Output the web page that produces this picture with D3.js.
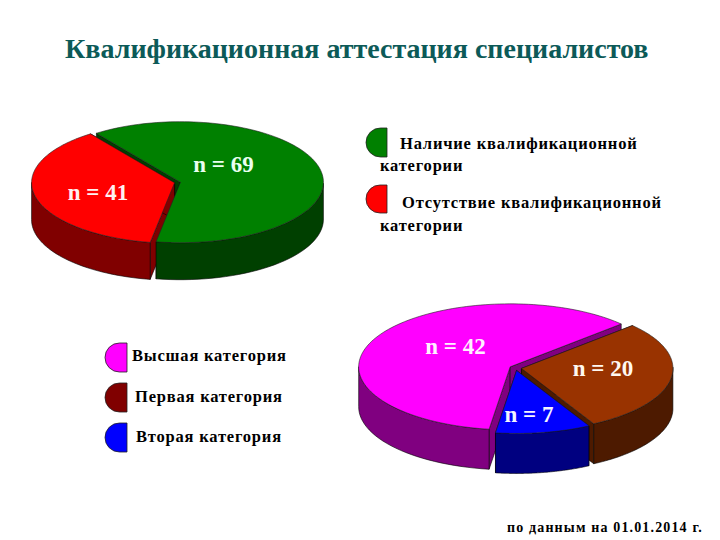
<!DOCTYPE html>
<html><head><meta charset="utf-8">
<script src="https://cdn.jsdelivr.net/npm/d3@7"></script>
<style>html,body{margin:0;padding:0;background:#fff}svg{display:block}text{font-family:"Liberation Serif",serif;font-weight:bold}</style>
</head><body><svg id="c" width="720" height="540"></svg>
<script>
const titleText = "Квалификационная аттестация специалистов";
const noteText = "по данным на 01.01.2014 г.";

const pie1Labels = ["n = 69", "n = 41"];
const pie1Values = [69, 41];
const pie1Tops = ["#008000", "#ff0000"];
const pie1Walls = ["#004000", "#800000"];

const pie2Labels = ["n = 42", "n = 20", "n = 7"];
const pie2Values = [42, 20, 7];
const pie2Tops = ["#ff00ff", "#993300", "#0000ff"];
const pie2Walls = ["#800080", "#4d1a00", "#000080"];

const legend1Lines = [["Наличие квалификационной", "категории"], ["Отсутствие квалификационной", "категории"]];
const legend2Names = ["Высшая категория", "Первая категория", "Вторая категория"];
const legend2Colors = ["#ff00ff", "#800000", "#0000ff"];

const svg = d3.select("#c");
const rad = Math.PI / 180;

function pie3d(cfg) {
  const arcs = d3.pie().sort(null).startAngle(cfg.start * rad).endAngle((cfg.start + 360) * rad)(cfg.values);
  const g = svg.append("g");
  const sx = d3.scaleLinear().domain([-1, 1]).range([-cfg.rx, cfg.rx]);
  const sy = d3.scaleLinear().domain([-1, 1]).range([-cfg.ry, cfg.ry]);
  const items = arcs.map((a, i) => {
    const mid = (a.startAngle + a.endAngle) / 2;
    const cx = cfg.cx + cfg.explode * Math.sin(mid);
    const cy = cfg.cy - cfg.explode * Math.cos(mid) * cfg.ry / cfg.rx;
    const pt = t => [cx + sx(Math.sin(t)), cy + sy(-Math.cos(t))];
    return {a, i, cx, cy, pt};
  });
  const line = d3.line();
  // radial cut faces
  items.forEach(o => {
    [o.a.startAngle, o.a.endAngle].forEach(t => {
      const p = o.pt(t);
      g.append("path").attr("d", line([[o.cx, o.cy], p, [p[0], p[1] + cfg.depth], [o.cx, o.cy + cfg.depth]]) + "Z")
        .attr("fill", cfg.walls[o.i]).attr("stroke", "#000").attr("stroke-width", 0.6);
    });
  });
  // outer rim
  items.forEach(o => {
    const n = 80, lo = o.a.startAngle, hi = o.a.endAngle;
    const ts = d3.range(n + 1).map(k => lo + (hi - lo) * k / n);
    const vis = ts.filter(t => Math.cos(t) <= 0.02);
    if (!vis.length) return;
    const up = vis.map(o.pt);
    const dn = up.map(p => [p[0], p[1] + cfg.depth]).reverse();
    g.append("path").attr("d", line(up.concat(dn)) + "Z").attr("fill", cfg.walls[o.i]).attr("stroke", "#000").attr("stroke-width", 0.6);
  });
  // top faces
  items.forEach(o => {
    const n = 120, lo = o.a.startAngle, hi = o.a.endAngle;
    const pts = d3.range(n + 1).map(k => o.pt(lo + (hi - lo) * k / n));
    g.append("path").attr("d", line([[o.cx, o.cy]].concat(pts)) + "Z").attr("fill", cfg.tops[o.i]).attr("stroke", "#222").attr("stroke-width", 0.6);
  });
  cfg.labelPos.forEach((p, i) => {
    g.append("text").attr("x", p[0]).attr("y", p[1]).attr("text-anchor", "middle")
      .attr("font-size", 23).attr("fill", p[2]).text(cfg.labels[i]);
  });
}

pie3d({cx: 177.5, cy: 182.5, rx: 143, ry: 60.5, depth: 37, explode: 3, start: -36,
  values: pie1Values, tops: pie1Tops, walls: pie1Walls, labels: pie1Labels,
  labelPos: [[223.5, 172, "#eafff0"], [98, 200, "#fff0f0"]]});

pie3d({cx: 515.5, cy: 368, rx: 151.5, ry: 63, depth: 40, explode: 6, start: -172,
  values: pie2Values, tops: pie2Tops, walls: pie2Walls, labels: pie2Labels,
  labelPos: [[455.5, 354, "#fff0ff"], [603, 376, "#fff8f0"], [529, 422, "#f4f4ff"]]});

function swatch(x, y, w, h, fill) {
  const r = Math.min(w, h / 2);
  const p = d3.path();
  p.moveTo(x + w, y); p.lineTo(x + r, y);
  p.arc(x + r, y + h / 2, r, -Math.PI / 2, Math.PI / 2, true);
  p.lineTo(x + w, y + h); p.closePath();
  svg.append("path").attr("d", p.toString()).attr("fill", fill).attr("stroke", "#222").attr("stroke-width", 0.8);
}

const legendText = (x, y, s) => svg.append("text").attr("x", x).attr("y", y).attr("font-size", 16.5).attr("letter-spacing", 0.8).attr("fill", "#000").text(s);

const L1 = [{sy: 128, h: 29, x1: 400, y1: 149, x2: 380, y2: 171}, {sy: 185, h: 28, x1: 402, y1: 208, x2: 380, y2: 231}];
legend1Lines.forEach((l, i) => {
  swatch(366, L1[i].sy, 21, L1[i].h, pie1Tops[i]);
  legendText(L1[i].x1, L1[i].y1, l[0]);
  legendText(L1[i].x2, L1[i].y2, l[1]);
});
const L2 = [{sy: 343, x: 132, y: 361}, {sy: 383, x: 135, y: 402}, {sy: 423, x: 136, y: 442}];
legend2Names.forEach((s, i) => {
  swatch(105, L2[i].sy, 22, 29, legend2Colors[i]);
  legendText(L2[i].x, L2[i].y, s);
});

svg.append("text").attr("x", 65).attr("y", 58).attr("font-size", 28).attr("fill", "#0c5a58").text(titleText);
svg.append("text").attr("x", 703).attr("y", 532).attr("text-anchor", "end").attr("font-size", 14).attr("letter-spacing", 1.15).attr("fill", "#000").text(noteText);
</script></body></html>
